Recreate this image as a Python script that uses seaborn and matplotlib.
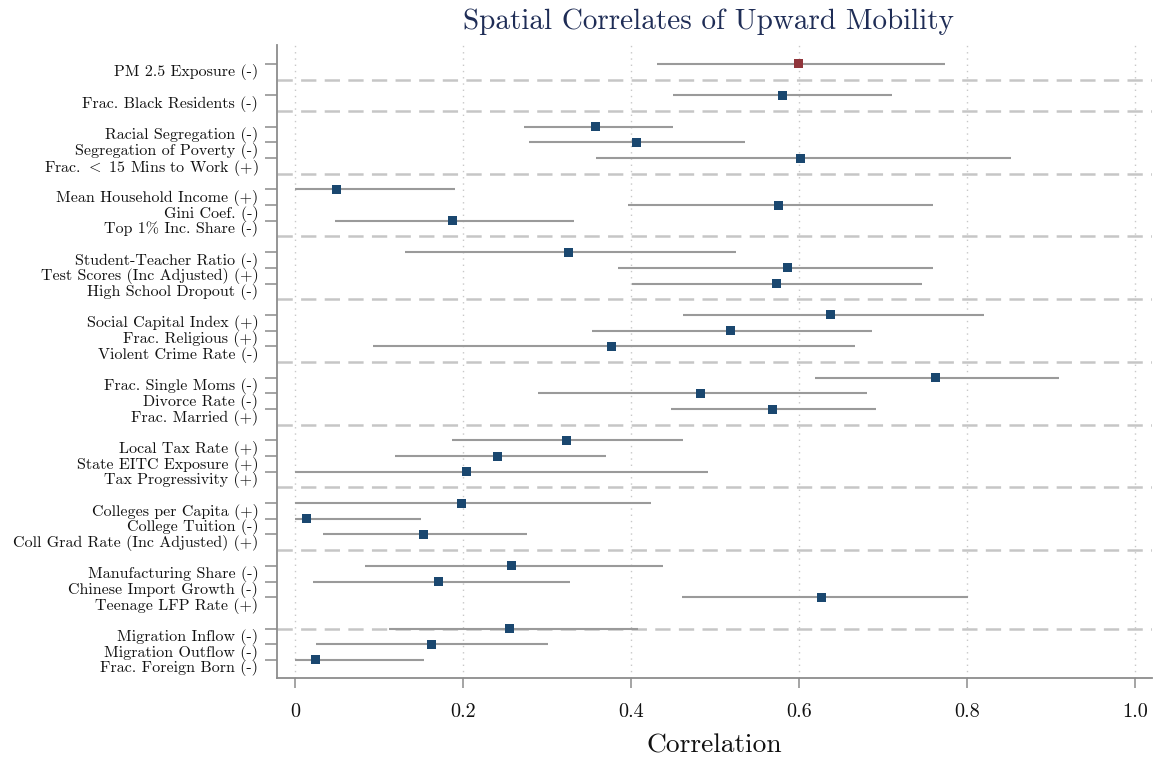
import numpy as np
import pandas as pd
import matplotlib
matplotlib.use("Agg")
import matplotlib.pyplot as plt
import matplotlib.transforms as mtransforms
import seaborn as sns

# ---------------- data ----------------
groups = [
    ["PM 2.5 Exposure (-)"],
    ["Frac. Black Residents (-)"],
    ["Racial Segregation (-)", "Segregation of Poverty (-)", "Frac. $<$ 15 Mins to Work (+)"],
    ["Mean Household Income (+)", "Gini Coef. (-)", "Top 1% Inc. Share (-)"],
    ["Student-Teacher Ratio (-)", "Test Scores (Inc Adjusted) (+)", "High School Dropout (-)"],
    ["Social Capital Index (+)", "Frac. Religious (+)", "Violent Crime Rate (-)"],
    ["Frac. Single Moms (-)", "Divorce Rate (-)", "Frac. Married (+)"],
    ["Local Tax Rate (+)", "State EITC Exposure (+)", "Tax Progressivity (+)"],
    ["Colleges per Capita (+)", "College Tuition (-)", "Coll Grad Rate (Inc Adjusted) (+)"],
    ["Manufacturing Share (-)", "Chinese Import Growth (-)", "Teenage LFP Rate (+)"],
    ["Migration Inflow (-)", "Migration Outflow (-)", "Frac. Foreign Born (-)"],
]

corr = [0.599,
        0.580,
        0.358, 0.406, 0.602,
        0.050, 0.576, 0.188,
        0.326, 0.586, 0.573,
        0.637, 0.519, 0.377,
        0.762, 0.483, 0.569,
        0.323, 0.241, 0.204,
        0.198, 0.014, 0.153,
        0.258, 0.171, 0.627,
        0.255, 0.162, 0.025]

ci_low = [0.431,
          0.450,
          0.273, 0.279, 0.358,
          0.000, 0.396, 0.048,
          0.131, 0.385, 0.401,
          0.462, 0.354, 0.093,
          0.619, 0.289, 0.448,
          0.187, 0.119, 0.000,
          0.000, 0.000, 0.033,
          0.083, 0.021, 0.461,
          0.112, 0.025, 0.000]

ci_high = [0.774,
           0.711,
           0.450, 0.536, 0.852,
           0.190, 0.760, 0.332,
           0.525, 0.760, 0.746,
           0.820, 0.687, 0.667,
           0.910, 0.681, 0.692,
           0.462, 0.370, 0.492,
           0.424, 0.150, 0.276,
           0.438, 0.327, 0.801,
           0.408, 0.301, 0.153]

highlight = ["PM 2.5 Exposure (-)"]

xticks = [0, 0.2, 0.4, 0.6, 0.8, 1.0]
xtick_labels = ["0", "0.2", "0.4", "0.6", "0.8", "1.0"]

# ---------------- layout from groups ----------------
labels, pos, seps = [], [], []
p = 0
for gi, g in enumerate(groups):
    if gi > 0:
        seps.append(p)
        p += 1
    for lab in g:
        labels.append(lab)
        pos.append(p)
        p += 1
# the reference draws its last separator on the first row of the last group
seps[-1] = seps[-1] + 1

df = pd.DataFrame({"label": labels, "pos": pos, "corr": corr,
                   "lo": ci_low, "hi": ci_high})
df["kind"] = np.where(df["label"].isin(highlight), "hl", "base")

# ---------------- style ----------------
sns.set_theme(style="white")
plt.rcParams["font.family"] = ["cmr10", "DejaVu Serif"]
plt.rcParams["mathtext.fontset"] = "cm"
plt.rcParams["axes.formatter.use_mathtext"] = True
plt.rcParams["lines.scale_dashes"] = False

navy = "#1a476f"
maroon = "#90353b"
spine_c = "#8c8c8c"

fig = plt.figure(figsize=(11.58, 7.59), dpi=100)
ax = fig.add_axes([277 / 1158, 1 - 678 / 759, (1152 - 277) / 1158, (678 - 45) / 759])

# vertical dotted grid
for xv in xticks:
    ax.axvline(xv, color="#c8c8c8", lw=1.0, ls=(0, (1, 3.5)), zorder=0)

# group separators
for s in seps:
    ax.axhline(s, color="#c6c6c6", lw=1.8, ls=(0, (11, 6)), zorder=1)

# confidence intervals
ax.hlines(df["pos"], df["lo"], df["hi"], color="#9a9a9a", lw=1.5, zorder=2)

# points
sns.scatterplot(data=df, x="corr", y="pos", hue="kind",
                palette={"base": navy, "hl": maroon}, marker="s", s=42,
                edgecolor="none", legend=False, ax=ax, zorder=3)

ax.set_xlim(-0.0214, 1.0202)
ax.set_ylim(39.15, -1.21)
ax.set_xticks(xticks)
ax.set_xticklabels(xtick_labels)
ax.set_yticks(df["pos"])
ax.set_yticklabels(df["label"])

for sp in ["top", "right"]:
    ax.spines[sp].set_visible(False)
for sp in ["left", "bottom"]:
    ax.spines[sp].set_color(spine_c)
    ax.spines[sp].set_linewidth(1.3)

ax.tick_params(axis="y", length=8.5, width=1.1, color=spine_c, pad=5,
               labelsize=11.5, labelcolor="#111111", left=True)
ax.tick_params(axis="x", length=7, width=1.1, color=spine_c, pad=11,
               labelsize=14.5, labelcolor="#111111", bottom=True)

off = mtransforms.ScaledTranslation(0, -6.5 / 100, fig.dpi_scale_trans)
for t in ax.get_yticklabels():
    t.set_transform(t.get_transform() + off)

ax.set_xlabel("Correlation", fontsize=19.8, color="#111111", labelpad=9)
ax.set_ylabel("")
fig.text(708 / 1158, 1 - 22 / 759, "Spatial Correlates of Upward Mobility",
         ha="center", va="center", fontsize=21, color="#1f2d56")

fig.savefig("out.png", dpi=100)
